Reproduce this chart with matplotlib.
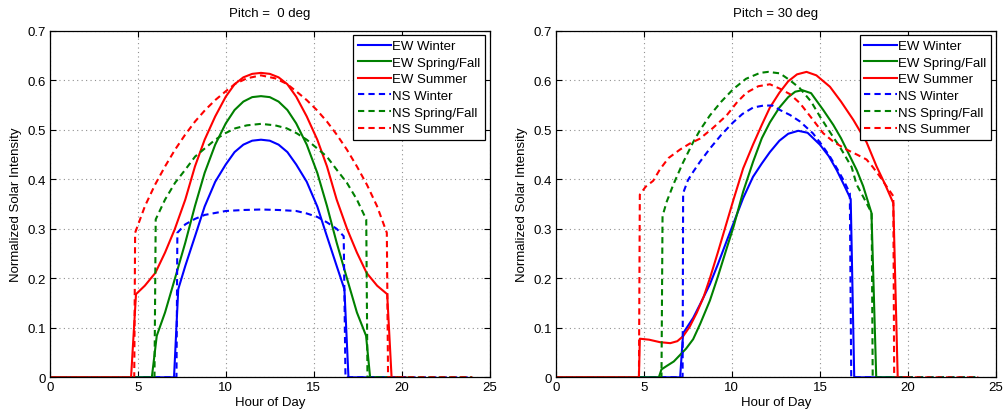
import matplotlib
matplotlib.use("Agg")
import matplotlib.pyplot as plt

plt.rcParams['font.family'] = ['Liberation Sans', 'DejaVu Sans']

# ---------------- Pitch = 0 deg ----------------
p0_ew_winter_h = [0, 7.06, 7.3, 7.7, 8.3, 8.8, 9.4, 10.0, 10.5, 11.0, 11.5, 12.0, 12.5, 13.0, 13.5, 14.0, 14.6, 15.2, 15.7, 16.3, 16.74, 16.97, 20.2]
p0_ew_winter_v = [0, 0, 0.178, 0.225, 0.29, 0.345, 0.395, 0.43, 0.455, 0.47, 0.478, 0.48, 0.478, 0.47, 0.455, 0.43, 0.395, 0.345, 0.29, 0.225, 0.178, 0, 0]

p0_ew_spring_h = [0, 5.8, 6.08, 6.55, 7.1, 7.7, 8.25, 8.8, 9.4, 10.0, 10.5, 11.0, 11.5, 12.0, 12.5, 13.0, 13.5, 14.0, 14.6, 15.2, 15.75, 16.3, 16.9, 17.45, 17.97, 18.2, 20.2]
p0_ew_spring_v = [0, 0, 0.084, 0.131, 0.198, 0.272, 0.346, 0.413, 0.47, 0.513, 0.54, 0.557, 0.566, 0.568, 0.566, 0.557, 0.54, 0.513, 0.47, 0.413, 0.346, 0.272, 0.198, 0.131, 0.084, 0, 0]

p0_ew_summer_h = [0, 4.62, 4.9, 5.4, 6.0, 6.55, 7.1, 7.7, 8.25, 8.8, 9.4, 10.0, 10.5, 11.0, 11.5, 12.0, 12.5, 13.0, 13.5, 14.0, 14.6, 15.2, 15.75, 16.3, 16.9, 17.45, 18.0, 18.6, 19.17, 19.42, 20.2]
p0_ew_summer_v = [0, 0, 0.168, 0.185, 0.211, 0.252, 0.299, 0.359, 0.426, 0.48, 0.527, 0.567, 0.592, 0.606, 0.613, 0.615, 0.613, 0.606, 0.592, 0.567, 0.527, 0.48, 0.426, 0.359, 0.299, 0.252, 0.211, 0.185, 0.168, 0, 0]

p0_ns_winter_h = [0, 7.2, 7.25, 7.7, 8.25, 8.8, 9.4, 10.0, 11.0, 12.0, 13.0, 14.0, 14.6, 15.2, 15.75, 16.3, 16.7, 16.8, 24]
p0_ns_winter_v = [0, 0, 0.292, 0.309, 0.32, 0.328, 0.332, 0.336, 0.338, 0.339, 0.338, 0.336, 0.331, 0.324, 0.313, 0.3, 0.285, 0, 0]

p0_ns_spring_h = [0, 5.95, 6.02, 6.55, 7.12, 7.69, 8.26, 8.83, 9.4, 9.97, 10.54, 11.2, 12.0, 12.8, 13.46, 14.03, 14.6, 15.17, 15.74, 16.31, 16.88, 17.45, 17.98, 18.05, 24]
p0_ns_spring_v = [0, 0, 0.319, 0.359, 0.393, 0.419, 0.446, 0.463, 0.48, 0.493, 0.503, 0.509, 0.512, 0.509, 0.503, 0.493, 0.48, 0.463, 0.446, 0.419, 0.393, 0.359, 0.319, 0, 0]

p0_ns_summer_h = [0, 4.8, 4.85, 5.41, 5.98, 6.55, 7.12, 7.69, 8.26, 8.83, 9.4, 9.97, 10.54, 11.2, 12.0, 12.8, 13.46, 14.03, 14.6, 15.17, 15.74, 16.31, 16.88, 17.45, 18.02, 18.59, 19.15, 19.22, 24]
p0_ns_summer_v = [0, 0, 0.292, 0.346, 0.389, 0.426, 0.46, 0.49, 0.517, 0.54, 0.56, 0.577, 0.593, 0.604, 0.61, 0.604, 0.593, 0.577, 0.56, 0.54, 0.517, 0.49, 0.46, 0.426, 0.389, 0.346, 0.292, 0, 0]

# ---------------- Pitch = 30 deg ----------------
p30_ew_winter_h = [0, 7.06, 7.23, 7.8, 8.2, 8.75, 9.2, 9.7, 10.1, 10.64, 11.2, 11.7, 12.16, 12.7, 13.2, 13.77, 14.3, 15.0, 15.5, 15.95, 16.35, 16.75, 16.95, 20.2]
p30_ew_winter_v = [0, 0, 0.089, 0.12, 0.148, 0.188, 0.228, 0.275, 0.312, 0.362, 0.405, 0.432, 0.455, 0.478, 0.492, 0.498, 0.494, 0.47, 0.447, 0.419, 0.39, 0.36, 0, 0]

p30_ew_spring_h = [0, 5.85, 6.0, 6.3, 6.7, 7.05, 7.4, 7.8, 8.2, 8.75, 9.2, 9.7, 10.1, 10.64, 11.2, 11.7, 12.16, 12.7, 13.2, 13.6, 14.0, 14.5, 15.19, 15.76, 16.2, 16.52, 17.1, 17.46, 17.93, 18.2, 20.2]
p30_ew_spring_v = [0, 0, 0.016, 0.023, 0.032, 0.045, 0.058, 0.077, 0.108, 0.155, 0.203, 0.26, 0.305, 0.375, 0.435, 0.483, 0.515, 0.545, 0.566, 0.577, 0.58, 0.574, 0.54, 0.51, 0.483, 0.46, 0.418, 0.386, 0.332, 0, 0]

p30_ew_summer_h = [0, 4.72, 4.77, 5.3, 5.91, 6.5, 6.9, 7.23, 7.6, 8.0, 8.4, 8.75, 9.2, 9.7, 10.1, 10.64, 11.2, 11.7, 12.16, 12.7, 13.2, 13.7, 14.24, 14.8, 15.57, 16.2, 16.9, 17.65, 18.22, 18.7, 19.17, 19.42, 20.2]
p30_ew_summer_v = [0, 0, 0.078, 0.076, 0.071, 0.069, 0.073, 0.083, 0.102, 0.13, 0.163, 0.2, 0.252, 0.312, 0.36, 0.422, 0.47, 0.51, 0.545, 0.575, 0.598, 0.612, 0.617, 0.61, 0.587, 0.557, 0.52, 0.475, 0.426, 0.39, 0.352, 0, 0]

p30_ns_winter_h = [0, 7.2, 7.23, 7.5, 7.8, 8.18, 8.75, 9.4, 10.07, 10.6, 11.21, 11.8, 12.3, 12.73, 13.3, 13.86, 14.6, 15.1, 15.57, 16.0, 16.33, 16.7, 16.78, 24]
p30_ns_winter_v = [0, 0, 0.372, 0.398, 0.415, 0.435, 0.462, 0.49, 0.515, 0.532, 0.545, 0.549, 0.549, 0.54, 0.53, 0.517, 0.493, 0.47, 0.446, 0.42, 0.399, 0.372, 0, 0]

p30_ns_spring_h = [0, 6.0, 6.06, 6.3, 6.67, 7.2, 7.8, 8.2, 8.75, 9.4, 10.07, 10.8, 11.6, 12.06, 12.73, 13.3, 13.86, 14.5, 15.0, 15.76, 16.14, 16.8, 17.08, 17.5, 17.94, 18.0, 24]
p30_ns_spring_v = [0, 0, 0.326, 0.355, 0.389, 0.432, 0.475, 0.5, 0.529, 0.557, 0.582, 0.603, 0.615, 0.617, 0.614, 0.6, 0.584, 0.557, 0.527, 0.485, 0.465, 0.425, 0.39, 0.362, 0.332, 0, 0]

p30_ns_summer_h = [0, 4.72, 4.77, 5.1, 5.53, 5.91, 6.4, 7.05, 7.6, 8.18, 8.9, 9.7, 10.3, 10.83, 11.5, 12.16, 12.73, 13.3, 13.86, 14.5, 15.19, 15.8, 16.52, 17.1, 17.65, 18.0, 18.4, 18.8, 19.17, 19.22, 24]
p30_ns_summer_v = [0, 0, 0.369, 0.385, 0.397, 0.42, 0.443, 0.46, 0.472, 0.482, 0.503, 0.529, 0.556, 0.575, 0.588, 0.592, 0.583, 0.572, 0.554, 0.525, 0.493, 0.475, 0.46, 0.45, 0.44, 0.425, 0.406, 0.385, 0.366, 0, 0]

labels = ['EW Winter', 'EW Spring/Fall', 'EW Summer', 'NS Winter', 'NS Spring/Fall', 'NS Summer']
colors = ['#0000ff', '#008000', '#ff0000', '#0000ff', '#008000', '#ff0000']
titles = ['Pitch =  0 deg', 'Pitch = 30 deg']

panels = [
    [(p0_ew_winter_h, p0_ew_winter_v), (p0_ew_spring_h, p0_ew_spring_v), (p0_ew_summer_h, p0_ew_summer_v),
     (p0_ns_winter_h, p0_ns_winter_v), (p0_ns_spring_h, p0_ns_spring_v), (p0_ns_summer_h, p0_ns_summer_v)],
    [(p30_ew_winter_h, p30_ew_winter_v), (p30_ew_spring_h, p30_ew_spring_v), (p30_ew_summer_h, p30_ew_summer_v),
     (p30_ns_winter_h, p30_ns_winter_v), (p30_ns_spring_h, p30_ns_spring_v), (p30_ns_summer_h, p30_ns_summer_v)],
]

fig = plt.figure(figsize=(10.07, 4.14), dpi=100)
lefts = [0.0494, 0.552]

for k in range(2):
    ax = fig.add_axes([lefts[k], 0.0862, 0.437, 0.837])
    for i, (h, v) in enumerate(panels[k]):
        if i < 3:
            ax.plot(h, v, color=colors[i], lw=1.5, label=labels[i])
        else:
            ax.plot(h, v, color=colors[i], lw=1.5, linestyle=(0, (3, 2)), label=labels[i])

    ax.set_xlim(0, 25)
    ax.set_ylim(0, 0.7)
    ax.set_xticks([0, 5, 10, 15, 20, 25])
    ax.set_yticks([0, 0.1, 0.2, 0.3, 0.4, 0.5, 0.6, 0.7])
    ax.set_yticklabels(['0', '0.1', '0.2', '0.3', '0.4', '0.5', '0.6', '0.7'])
    ax.tick_params(direction='in', top=True, right=True, length=4, labelsize=9.5, pad=3)
    ax.grid(True, linestyle=(0, (1, 3)), color='#909090', lw=0.8)
    for s in ax.spines.values():
        s.set_linewidth(0.9)
    ax.set_xlabel('Hour of Day', fontsize=9.5, labelpad=2)
    ax.set_ylabel('Normalized Solar Intensity', fontsize=9.5, labelpad=4)
    ax.set_title(titles[k], fontsize=9.5, pad=11)
    leg = ax.legend(loc='upper right', fontsize=9.5, fancybox=False, framealpha=1,
                    edgecolor='black', handlelength=2.5, handletextpad=0.1,
                    labelspacing=0.33, borderaxespad=0.35, borderpad=0.35)
    leg.get_frame().set_linewidth(0.9)

plt.savefig('out.png', dpi=100)
